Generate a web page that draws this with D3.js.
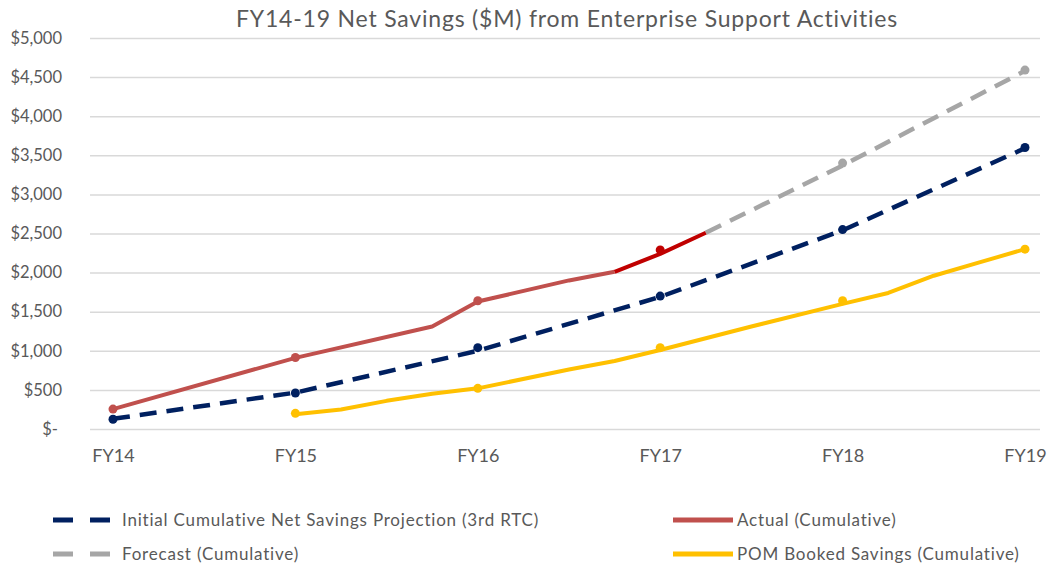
<!DOCTYPE html>
<html>
<head>
<meta charset="utf-8">
<script src="https://cdn.jsdelivr.net/npm/d3@7"></script>
<style>
  html, body { margin: 0; padding: 0; background: #fff; }
  svg text { font-family: Lato, "Open Sans", sans-serif; fill: #595959; }
</style>
</head>
<body>
<div id="chart"></div>
<script>
// categories and ticks
const categories = ['FY14', 'FY15', 'FY16', 'FY17', 'FY18', 'FY19'];
const yTicks = [0, 500, 1000, 1500, 2000, 2500, 3000, 3500, 4000, 4500, 5000];

// line series: [fiscal year position, $M]
const projectionLine = [[14, 130], [15, 465], [16, 1000], [17, 1690], [18, 2540], [19, 3590]];
const projectionDots = [[14, 125], [15, 460], [16, 1040], [17, 1700], [18, 2550], [19, 3600]];

const actualLine = [[14, 255], [15, 910], [15.75, 1310], [16, 1630], [16.5, 1900], [16.75, 2010]];
const actualRecentLine = [[16.75, 2010], [17, 2240], [17.25, 2510]];
const actualDots = [[14, 255], [15, 915], [16, 1640]];
const actualRecentDots = [[17, 2290]];

const forecastLine = [[17.25, 2510], [18, 3370], [19, 4580]];
const forecastDots = [[18, 3400], [19, 4590]];

const pomLine = [[15, 190], [15.25, 250], [15.5, 360], [15.75, 450], [16, 520], [16.5, 760],
  [16.75, 870], [17, 1010], [17.5, 1310], [18, 1600], [18.25, 1740], [18.5, 1960],
  [18.75, 2130], [19, 2300]];
const pomDots = [[15, 200], [16, 520], [17, 1040], [18, 1640], [19, 2300]];

const legendItems = [
  { label: 'Initial Cumulative Net Savings Projection (3rd RTC)', color: '#002060', dash: true, col: 0, row: 0 },
  { label: 'Actual (Cumulative)', color: '#C0504D', dash: false, col: 1, row: 0 },
  { label: 'Forecast (Cumulative)', color: '#A6A6A6', dash: true, col: 0, row: 1 },
  { label: 'POM Booked Savings (Cumulative)', color: '#FFC000', dash: false, col: 1, row: 1 }
];

const width = 1048, height = 569;
const plotLeft = 90, plotRight = 1040, plotTop = 38, plotBottom = 429;

const svg = d3.select('#chart').append('svg')
  .attr('width', width)
  .attr('height', height);

const xCat = d3.scalePoint().domain(categories).range([113, 1025]);
const x = d3.scaleLinear().domain([14, 19]).range([113, 1025]);
const y = d3.scaleLinear().domain([0, 5000]).range([plotBottom, plotTop]);

// title
svg.append('text')
  .attr('x', 567).attr('y', 27)
  .attr('text-anchor', 'middle')
  .style('font-size', '23px')
  .style('letter-spacing', '0.8px')
  .text('FY14-19 Net Savings ($M) from Enterprise Support Activities');

// y axis with gridlines
const yAxis = svg.append('g')
  .attr('transform', `translate(${plotLeft},0)`)
  .call(d3.axisLeft(y)
    .tickValues(yTicks)
    .tickSize(-(plotRight - plotLeft))
    .tickPadding(28)
    .tickFormat(v => v === 0 ? '$-' : '$' + d3.format(',')(v)));
yAxis.select('.domain').remove();
yAxis.selectAll('line').attr('stroke', '#D9D9D9').attr('stroke-width', 1.5);
yAxis.selectAll('text').style('font-size', '16.5px').attr('fill', '#595959');
yAxis.selectAll('.tick').filter(d => d === 0).select('text').attr('dx', -4);

// x axis labels
const xAxis = svg.append('g')
  .attr('transform', `translate(0,${plotBottom})`)
  .call(d3.axisBottom(xCat).tickSize(0).tickPadding(20));
xAxis.select('.domain').remove();
xAxis.selectAll('text').style('font-size', '18px').attr('fill', '#595959');

const line = d3.line().x(d => x(d[0])).y(d => y(d[1]));

function drawLine(data, color, w, dash) {
  svg.append('path')
    .datum(data)
    .attr('d', line)
    .attr('fill', 'none')
    .attr('stroke', color)
    .attr('stroke-width', w)
    .attr('stroke-linejoin', 'round')
    .attr('stroke-dasharray', dash || null);
}

function drawDots(data, color) {
  svg.append('g').selectAll('circle')
    .data(data).enter().append('circle')
    .attr('cx', d => x(d[0]))
    .attr('cy', d => y(d[1]))
    .attr('r', 4.5)
    .attr('fill', color);
}

drawLine(pomLine, '#FFC000', 4);
drawDots(pomDots, '#FFC000');

drawLine(forecastLine, '#A6A6A6', 4.5, '17,10');
drawDots(forecastDots, '#A6A6A6');

drawLine(projectionLine, '#002060', 4.5, '17,10');
drawDots(projectionDots, '#002060');

drawLine(actualLine, '#C0504D', 4);
drawDots(actualDots, '#C0504D');
drawLine(actualRecentLine, '#C00000', 4);
drawDots(actualRecentDots, '#C00000');

// legend
const legend = svg.append('g');
const colX = [53, 673];
const rowY = [520, 554];
legendItems.forEach(item => {
  const g = legend.append('g')
    .attr('transform', `translate(${colX[item.col]},${rowY[item.row]})`);
  g.append('line')
    .attr('x1', 0).attr('x2', item.dash ? 57 : 60)
    .attr('y1', 0).attr('y2', 0)
    .attr('stroke', item.color)
    .attr('stroke-width', 5)
    .attr('stroke-dasharray', item.dash ? '20,17' : null);
  g.append('text')
    .attr('x', item.dash ? 69 : 64)
    .attr('y', 0)
    .attr('dy', '0.35em')
    .style('font-size', '17px')
    .style('letter-spacing', '0.8px')
    .text(item.label);
});
</script>
</body>
</html>
